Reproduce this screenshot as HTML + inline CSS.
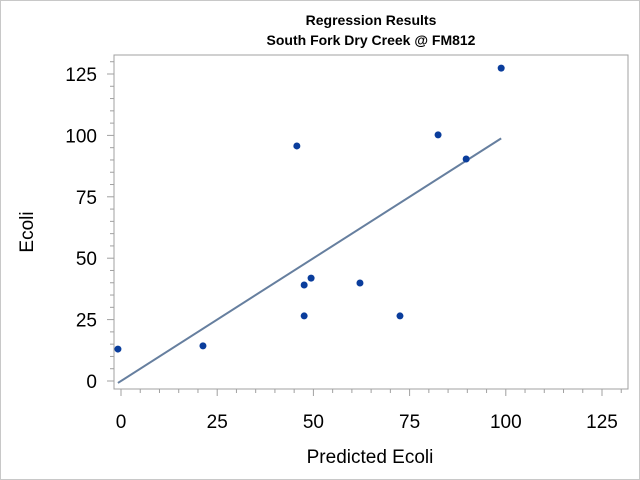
<!DOCTYPE html>
<html><head><meta charset="utf-8"><style>
body{margin:0;background:#fff}
svg{display:block;font-family:"Liberation Sans",sans-serif}
</style></head><body>
<svg id="c" width="640" height="480">
<rect x="0.5" y="0.5" width="639" height="479" fill="#fff" stroke="#c8c8c8"/>
<text x="371" y="25" font-size="14" font-weight="bold" text-anchor="middle">Regression Results</text>
<text x="371" y="45" font-size="14" font-weight="bold" text-anchor="middle">South Fork Dry Creek @ FM812</text>
<rect x="114" y="55" width="514" height="334" fill="none" stroke="#a0a0a0"/>
<text x="370" y="463" font-size="19" text-anchor="middle">Predicted Ecoli</text>
<text transform="translate(33,232) rotate(-90)" font-size="19" text-anchor="middle">Ecoli</text>
<g id="ticks"></g><g id="marks"></g>
</svg>
<script>
const xTicks=[0,25,50,75,100,125];
const yTicks=[0,25,50,75,100,125];
const predicted=[-0.8,21.3,45.7,47.6,47.6,49.4,62.1,72.5,82.4,89.7,98.8];
const ecoli=[13,14.3,95.7,39.1,26.5,41.9,39.9,26.5,100.2,90.4,127.4];
const fitX=[-0.8,98.8];
const fitY=[-0.8,98.8];
const NS="http://www.w3.org/2000/svg";
const sx=v=>121+v*3.848, sy=v=>381-v*2.456;
function mk(t,a,p){const e=document.createElementNS(NS,t);for(const k in a)e.setAttribute(k,a[k]);p.appendChild(e);return e;}
const tg=document.getElementById('ticks'), mg=document.getElementById('marks');
for(let v=-5;v<=130;v+=5){
  const maj=v%25===0;
  const X=sx(v); if(X>114&&X<628){const l=mk('line',{x1:X,x2:X,y1:389,y2:389+(maj?7:4),stroke:'#a0a0a0'},tg);
  
  }
  const Y=sy(v); if(Y>55&&Y<389){const l=mk('line',{x1:114,x2:114-(maj?7:4),y1:Y,y2:Y,stroke:'#a0a0a0'},tg);
  
  }
}
xTicks.forEach(v=>{const t=mk('text',{x:sx(v),y:428,'font-size':19,'text-anchor':'middle'},tg);t.textContent=v;

});
yTicks.forEach(v=>{const t=mk('text',{x:97,y:sy(v)+7,'font-size':19,'text-anchor':'end'},tg);t.textContent=v;

});
const fl=mk('line',{x1:sx(fitX[0]),y1:sy(fitY[0]),x2:sx(fitX[1]),y2:sy(fitY[1]),stroke:'#667f9f','stroke-width':2},mg);


predicted.forEach((p,i)=>{const c=mk('circle',{cx:sx(p),cy:sy(ecoli[i]),r:3.5,fill:'#0a3d9c'},mg);

});
</script>
</body></html>
